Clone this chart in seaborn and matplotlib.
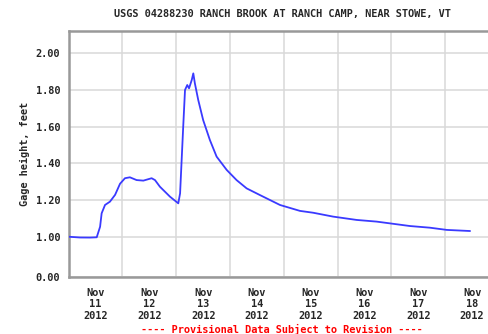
import numpy as np
import pandas as pd
import matplotlib
matplotlib.use("Agg")
import matplotlib.pyplot as plt
import matplotlib.dates as mdates
from matplotlib.ticker import FixedLocator, FixedFormatter
import seaborn as sns

# Gage height record, hours after 2012-11-11 00:00 and stage in feet
hours = [0.0, 5.0, 9.5, 12.5, 14.0, 14.7, 16.2, 18.4, 20.7, 22.9, 25.1, 27.3,
         30.3, 33.3, 37.0, 38.5, 40.7, 45.2, 48.9, 49.7, 51.1, 51.9, 52.9,
         53.7, 54.9, 55.6, 56.3, 57.8, 60.0, 63.0, 66.0, 70.5, 74.9, 79.4,
         85.3, 94.3, 103.2, 109.1, 118.0, 128.5, 137.4, 152.3, 161.2, 168.7,
         179.1]
gage_ft = [1.003, 0.995, 0.993, 1.000, 1.057, 1.130, 1.175, 1.193, 1.230,
           1.290, 1.320, 1.325, 1.310, 1.307, 1.320, 1.310, 1.274, 1.220,
           1.184, 1.238, 1.600, 1.798, 1.825, 1.807, 1.852, 1.888, 1.834,
           1.744, 1.635, 1.527, 1.437, 1.365, 1.310, 1.265, 1.229, 1.175,
           1.143, 1.133, 1.112, 1.094, 1.085, 1.061, 1.052, 1.040, 1.034]

y_ticks = [0.0, 1.0, 1.2, 1.4, 1.6, 1.8, 2.0]
y_tick_labels = ["0.00", "1.00", "1.20", "1.40", "1.60", "1.80", "2.00"]
day_labels = ["Nov\n11\n2012", "Nov\n12\n2012", "Nov\n13\n2012", "Nov\n14\n2012",
              "Nov\n15\n2012", "Nov\n16\n2012", "Nov\n17\n2012", "Nov\n18\n2012"]

start = pd.Timestamp("2012-11-11")
df = pd.DataFrame({
    "time": start + pd.to_timedelta(hours, unit="h"),
    "gage": gage_ft,
})

sns.set_style("white")
font = "DejaVu Sans Mono"
plt.rcParams["font.family"] = [font, "DejaVu Sans"]
FS = 7.4

fig = plt.figure(figsize=(4.89, 3.34), dpi=100)
ax = fig.add_axes([0.1405, 0.1716, 0.8799, 0.7356])

# Broken-style stage axis: 0 to 1 ft squeezed into one grid step
SQ = 0.2134
def fwd(y):
    y = np.asarray(y, dtype=float)
    return np.where(y >= 1, y, 1 - SQ * (1 - y))
def inv(t):
    t = np.asarray(t, dtype=float)
    return np.where(t >= 1, t, 1 - (1 - t) / SQ)
ax.set_yscale("function", functions=(fwd, inv))

sns.lineplot(data=df, x="time", y="gage", ax=ax, color="#3a3aff",
             linewidth=1.3, zorder=3)

ax.set_xlim(start, start + pd.Timedelta(days=8))
ax.set_ylim(0.0, 2.1176)

ax.yaxis.set_major_locator(FixedLocator(y_ticks))
ax.yaxis.set_major_formatter(FixedFormatter(y_tick_labels))
ax.yaxis.set_minor_locator(FixedLocator([]))

# Gridlines at midnight, date labels at noon
days = pd.date_range(start, periods=9, freq="D")
noons = days[:-1] + pd.Timedelta(hours=12)
ax.xaxis.set_major_locator(FixedLocator(mdates.date2num(days)))
ax.xaxis.set_major_formatter(FixedFormatter([""] * len(days)))
ax.xaxis.set_minor_locator(FixedLocator(mdates.date2num(noons)))
ax.xaxis.set_minor_formatter(FixedFormatter(day_labels))

ax.grid(True, which="major", color="#d9d9d9", linewidth=1.1, zorder=0)
ax.set_axisbelow(True)

ax.tick_params(axis="both", which="both", length=0)
ax.tick_params(axis="y", pad=6, labelsize=FS)
ax.tick_params(axis="x", which="minor", pad=8, labelsize=FS)
for lab in ax.get_yticklabels() + ax.get_xticklabels(minor=True):
    lab.set_fontweight("bold")
    lab.set_family(font)
for lab in ax.get_xticklabels(minor=True):
    lab.set_linespacing(1.2)

for side in ["left", "bottom", "top", "right"]:
    ax.spines[side].set_color("#999999")
    ax.spines[side].set_linewidth(1.8)

ax.set_xlabel("")
ax.set_ylabel("Gage height, feet", fontsize=FS, fontweight="bold",
              family=font, labelpad=4)

fig.text(0.578, 0.957, "USGS 04288230 RANCH BROOK AT RANCH CAMP, NEAR STOWE, VT",
         ha="center", va="center", fontsize=FS, fontweight="bold", family=font)
fig.text(0.577, 0.014, "---- Provisional Data Subject to Revision ----",
         ha="center", va="center", fontsize=FS, fontweight="bold", family=font,
         color="#ff0000")

fig.savefig("out.png", dpi=100)
